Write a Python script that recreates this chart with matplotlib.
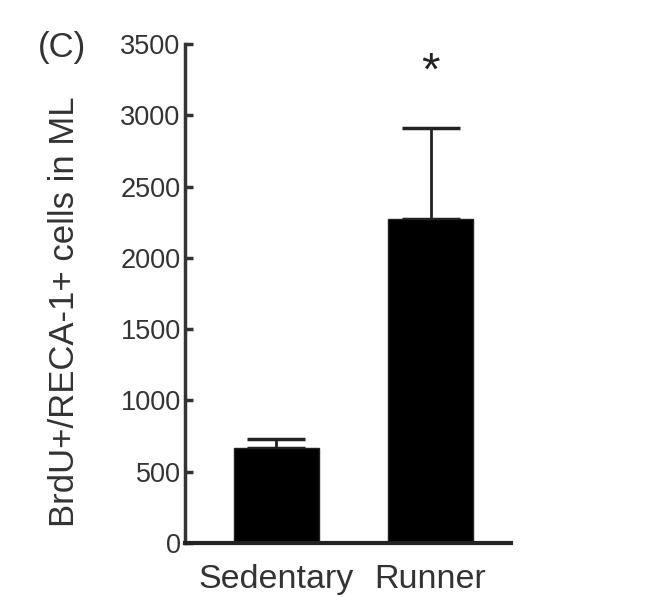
import matplotlib
matplotlib.use("Agg")
import matplotlib.pyplot as plt

groups = ["Sedentary", "Runner"]
means = [665, 2275]
sem = [65, 640]
y_ticks = [0, 500, 1000, 1500, 2000, 2500, 3000, 3500]

plt.rcParams["font.family"] = ["Liberation Sans", "DejaVu Sans"]

fig = plt.figure(figsize=(6.72, 5.97), dpi=100)
ax = fig.add_axes([0.275, 0.0905, 0.485, 0.8355])

x = list(range(len(groups)))
ax.bar(x, means, width=0.55, color="black", edgecolor="#222", linewidth=1, zorder=2)
ax.errorbar(x, means, yerr=[[0] * len(sem), sem], fmt="none", ecolor="#222",
            elinewidth=2, capsize=21, capthick=2.5, zorder=1)

ax.set_xlim(-0.595, 1.52)
ax.set_ylim(0, 3500)
ax.set_yticks(y_ticks)
ax.set_xticks(x)
ax.set_xticklabels(groups)
ax.tick_params(axis="y", direction="in", length=6, width=2.5, labelsize=19.5, colors="#333", pad=3)
ax.tick_params(axis="x", length=0, labelsize=24.5, colors="#333", pad=15)
for s in ["top", "right"]:
    ax.spines[s].set_visible(False)
ax.spines["left"].set_linewidth(2.5)
ax.spines["bottom"].set_linewidth(3)
ax.spines["left"].set_color("#333")
ax.spines["bottom"].set_color("#222")
ax.spines["left"].set_bounds(0, 3500)

ax.text(1, 3300, "*", ha="center", va="center", fontsize=34, color="#222")

fig.text(65 / 672, 1 - 312 / 597, "BrdU+/RECA-1+ cells in ML", rotation=90,
         ha="center", va="center", fontsize=25, color="#333")
fig.text(62 / 672, 1 - 47 / 597, "(C)", ha="center", va="center", fontsize=25, color="#333")

fig.savefig("out.png", dpi=100)
